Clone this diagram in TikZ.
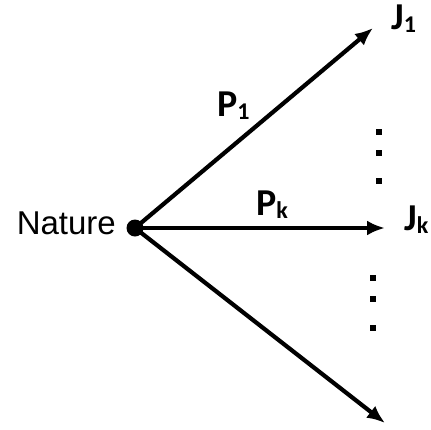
\documentclass[tikz,border=0pt]{standalone}
\usepackage{fontspec}
\setmainfont{Liberation Sans}
\newfontfamily\labelfont{Carlito}
\usetikzlibrary{arrows.meta,positioning}
\newcommand{\lowidx}[1]{\raisebox{-3pt}{\fontsize{24}{24}\selectfont #1}}

\begin{document}
\begin{tikzpicture}[x=1pt,y=-1pt,>={Latex[length=18pt,width=15pt]}]
\tikzstyle{arr}=[->,line width=4.2pt]
\tikzstyle{lbl}=[font=\labelfont\bfseries\fontsize{38}{38}\selectfont,inner sep=0pt,anchor=base west]
\tikzstyle{vdot}=[fill,rectangle,inner sep=0pt,minimum size=5.5pt]
\useasboundingbox (0,0) rectangle (431,429);
\node[fill,circle,inner sep=0pt,minimum size=17pt] (nat) at (135,228) {};
\node[anchor=base east,font=\fontsize{33}{33}\selectfont,inner sep=0pt] (natlbl) at (116,234) {Nature};
\coordinate (e1) at (373,28);
\coordinate (ek) at (385,228);
\coordinate (en) at (385,423);
\node[lbl] (j1) at (391,29) {J\lowidx{1}};
\node[lbl] (jk) at (404,230) {J\lowidx{k}};
\node[lbl] (p1) at (217,116) {P\lowidx{1}};
\node[lbl] (pk) at (256,215) {P\lowidx{k}};
% dots between the arrows
\foreach \y in {132,153,181} \node[vdot] at (379,\y) {};
\foreach \y in {278,299,328} \node[vdot] at (373,\y) {};
\draw[arr] (nat.center) -- (e1);
\draw[arr] (nat.center) -- (ek);
\draw[arr] (nat.center) -- (en);
\end{tikzpicture}
\end{document}
